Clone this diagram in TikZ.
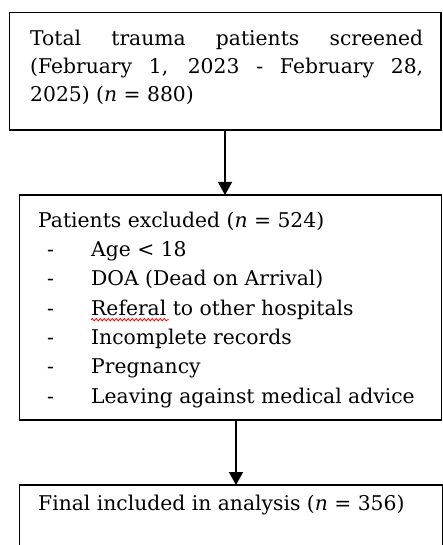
\documentclass[tikz,border=0pt]{standalone}
\usepackage{fontspec}
\setmainfont{DejaVu Serif}
\usetikzlibrary{arrows.meta,decorations.pathmorphing,calc}
\begin{document}
\begin{tikzpicture}[x=1pt,y=1pt,
  box/.style={draw, line width=1.6pt, inner sep=0pt, outer sep=0pt, anchor=north west},
  txt/.style={inner sep=0pt, anchor=base west, font=\fontsize{20.3}{28}\selectfont},
  arr/.style={line width=1.4pt, -{Triangle[width=14pt,length=13pt]}},
  squiggle/.style={red, line width=0.8pt, decorate, decoration={snake, amplitude=1.2pt, segment length=4pt}}]
\useasboundingbox (0,0) rectangle (443,-545);
\begin{scope}
\clip (0,0) rectangle (443,-545);
% boxes
\node[box, minimum width=431.5pt, minimum height=117.5pt] (b1) at (9.5,-12.5) {};
\node[box, minimum width=422pt, minimum height=225pt] (b2) at (19.5,-195) {};
\node[box, minimum width=423pt, minimum height=100pt] (b3) at (19.5,-485) {};
% box 1 text
\node[txt] (t11) at (30,-45.7) {\makebox[393pt][s]{Total trauma patients screened}};
\node[txt] (t12) at (30,-73.7) {\makebox[393pt][s]{(February 1, 2023 - February 28,}};
\node[txt] (t13) at (30,-101.7) {2025) (\textit{n} = 880)};
% box 2 text
\node[txt] (t20) at (38,-227.3) {Patients excluded (\textit{n} = 524)};
\foreach \i/\t in {1/Age < 18, 2/DOA (Dead on Arrival), 3/Referal to other hospitals, 4/Incomplete records, 5/Pregnancy, 6/Leaving against medical advice}{
  \node[txt] (d\i) at (47,-227.3-29.3*\i) {-};
  \node[txt] (i\i) at (91,-227.3-29.3*\i) {\t};
}
\draw[squiggle] ($(i3.base west)+(0,-4.5)$) -- ($(i3.base west)+(78,-4.5)$);
% box 3 text
\node[txt] (t30) at (38,-510.7) {Final included in analysis (\textit{n} = 356)};
% arrows
\coordinate (a1) at ($(b1.south west)+(215.5,0)$);
\draw[arr] (a1) -- (a1 |- b2.north);
\coordinate (a2) at ($(b2.south west)+(216.5,0)$);
\draw[arr] (a2) -- (a2 |- b3.north);
\end{scope}
\end{tikzpicture}
\end{document}
